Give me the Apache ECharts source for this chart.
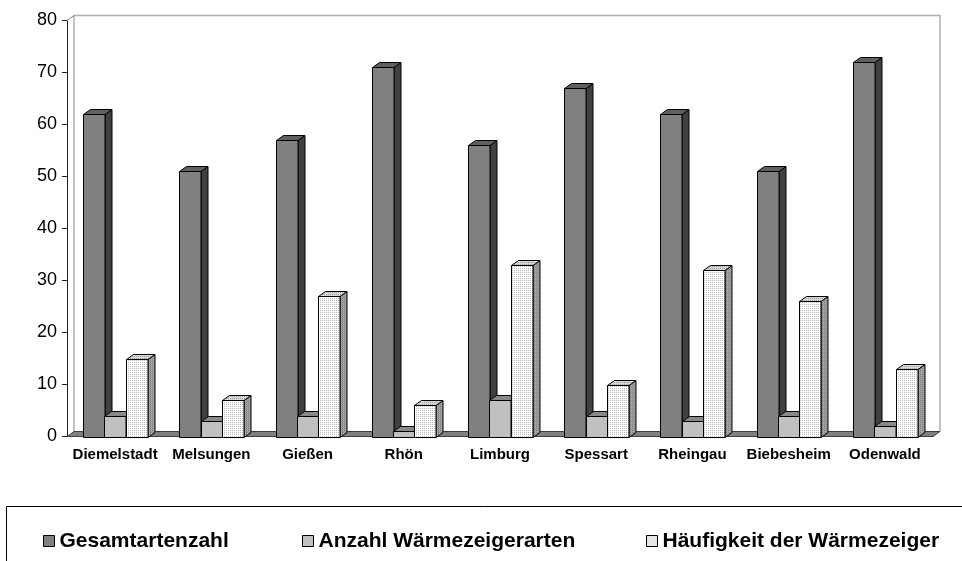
<!DOCTYPE html>
<html lang="de">
<head>
<meta charset="utf-8">
<title>Wärmezeiger</title>
<style>
  html, body { margin: 0; padding: 0; background: #fff; }
  #main { width: 962px; height: 561px; }
</style>
</head>
<body>
<div id="main"></div>
<script src="https://cdn.jsdelivr.net/npm/echarts@6/dist/echarts.min.js"></script>
<script>
// data
var categories = ['Diemelstadt', 'Melsungen', 'Gießen', 'Rhön', 'Limburg', 'Spessart', 'Rheingau', 'Biebesheim', 'Odenwald'];
var gesamtartenzahl = [62, 51, 57, 71, 56, 67, 62, 51, 72];
var anzahlWaermezeigerarten = [4, 3, 4, 1, 7, 4, 3, 4, 2];
var haeufigkeitWaermezeiger = [15, 7, 27, 6, 33, 10, 32, 26, 13];
var seriesNames = ['Gesamtartenzahl', 'Anzahl Wärmezeigerarten', 'Häufigkeit der Wärmezeiger'];

var DX = 7, DY = 5;   // depth of the fake 3d
var FONT = '"Liberation Sans", Arial, sans-serif';

// dotted fill like the old excel pattern
function dots(bg, fg) {
  var c = document.createElement('canvas');
  c.width = 2; c.height = 2;
  var g = c.getContext('2d');
  g.fillStyle = bg; g.fillRect(0, 0, 2, 2);
  g.fillStyle = fg; g.fillRect(0, 0, 1, 1);
  return { image: c, repeat: 'repeat' };
}

var faces = [
  { front: '#808080', side: '#404040', top: '#606060' },
  { front: '#c0c0c0', side: '#707070', top: '#888888' },
  { front: dots('#ffffff', '#b8b8b8'), side: dots('#a0a0a0', '#808080'), top: dots('#d8d8d8', '#a0a0a0') }
];

function barRenderer(slot) {
  var f = faces[slot];
  return function (params, api) {
    var idx = api.value(0);
    var top = api.coord([idx, api.value(1)]);
    var base = api.coord([idx, 0]);
    var bw = api.size([1, 0])[0] * 0.222;
    var x0 = Math.round(top[0] - 1.5 * bw + slot * bw) + 0.5;
    var x1 = Math.round(x0 + bw);
    var yt = Math.round(top[1]) + 0.5, yb = Math.round(base[1]) + 0.5;
    var line = { stroke: '#000', lineWidth: 1 };
    return {
      type: 'group',
      children: [
        { type: 'polygon', shape: { points: [[x1, yb], [x1 + DX, yb - DY], [x1 + DX, yt - DY], [x1, yt]] },
          style: Object.assign({ fill: f.side }, line) },
        { type: 'polygon', shape: { points: [[x0, yt], [x0 + DX, yt - DY], [x1 + DX, yt - DY], [x1, yt]] },
          style: Object.assign({ fill: f.top }, line) },
        { type: 'rect', shape: { x: x0, y: yt, width: x1 - x0, height: yb - yt },
          style: Object.assign({ fill: f.front }, line) }
      ]
    };
  };
}

// walls and floor of the 3d box
function frameRenderer(params, api) {
  var cs = params.coordSys;
  var l = cs.x, t = cs.y, r = cs.x + cs.width, b = cs.y + cs.height;
  var wall = { stroke: '#b0b0b0', lineWidth: 1.5, fill: null };
  return {
    type: 'group',
    children: [
      { type: 'polyline', shape: { points: [[l + DX, b - DY], [l + DX, t - DY], [r + DX, t - DY], [r + DX, b - DY]] }, style: wall },
      { type: 'line', shape: { x1: l, y1: t, x2: l + DX, y2: t - DY }, style: { stroke: '#808080', lineWidth: 1 } },
      { type: 'polygon', shape: { points: [[l, b], [r, b], [r + DX, b - DY], [l + DX, b - DY]] },
        style: { fill: '#808080', stroke: '#404040', lineWidth: 1 } }
    ]
  };
}

function toData(arr) {
  return arr.map(function (v, i) { return [i, v]; });
}

var chart = echarts.init(document.getElementById('main'));

var legendLefts = [38, 297, 641];
var legendColors = ['#808080', '#c0c0c0', dots('#ffffff', '#a0a0a0')];

var option = {
  animation: false,
  backgroundColor: '#fff',
  grid: { left: 67, right: 29, top: 20.5, bottom: 124.5 },
  xAxis: {
    type: 'category',
    data: categories,
    axisLine: { lineStyle: { color: '#202020', width: 1 } },
    axisTick: { length: 6, lineStyle: { color: '#202020' } },
    axisLabel: { interval: 0, margin: 11, color: '#000', fontFamily: FONT, fontWeight: 'bold', fontSize: 15 }
  },
  yAxis: {
    type: 'value',
    min: 0, max: 80, interval: 10,
    axisLine: { show: true, lineStyle: { color: '#202020', width: 1 } },
    axisTick: { show: true, length: 5, lineStyle: { color: '#202020' } },
    axisLabel: { margin: 10, color: '#000', fontFamily: FONT, fontSize: 18 },
    splitLine: { show: false }
  },
  legend: seriesNames.map(function (name, i) {
    return {
      left: legendLefts[i], top: 524,
      itemWidth: 11, itemHeight: 11,
      data: [{ name: name, icon: 'rect', itemStyle: { color: legendColors[i], borderColor: '#000', borderWidth: 1 } }],
      textStyle: { color: '#000', fontFamily: FONT, fontWeight: 'bold', fontSize: 21, lineHeight: 24 },
      selectedMode: false
    };
  }),
  graphic: [{
    type: 'rect',
    shape: { x: 6.5, y: 506.5, width: 1000, height: 100 },
    style: { fill: null, stroke: '#000', lineWidth: 1 },
    silent: true
  }],
  series: [
    { type: 'custom', name: 'frame', renderItem: frameRenderer, data: [[0, 0]], silent: true, z: 1 },
    { type: 'custom', name: seriesNames[0], renderItem: barRenderer(0), data: toData(gesamtartenzahl), itemStyle: { color: '#808080' }, z: 2 },
    { type: 'custom', name: seriesNames[1], renderItem: barRenderer(1), data: toData(anzahlWaermezeigerarten), itemStyle: { color: '#c0c0c0' }, z: 3 },
    { type: 'custom', name: seriesNames[2], renderItem: barRenderer(2), data: toData(haeufigkeitWaermezeiger), itemStyle: { color: '#ffffff' }, z: 4 }
  ]
};

chart.setOption(option);
</script>
</body>
</html>
